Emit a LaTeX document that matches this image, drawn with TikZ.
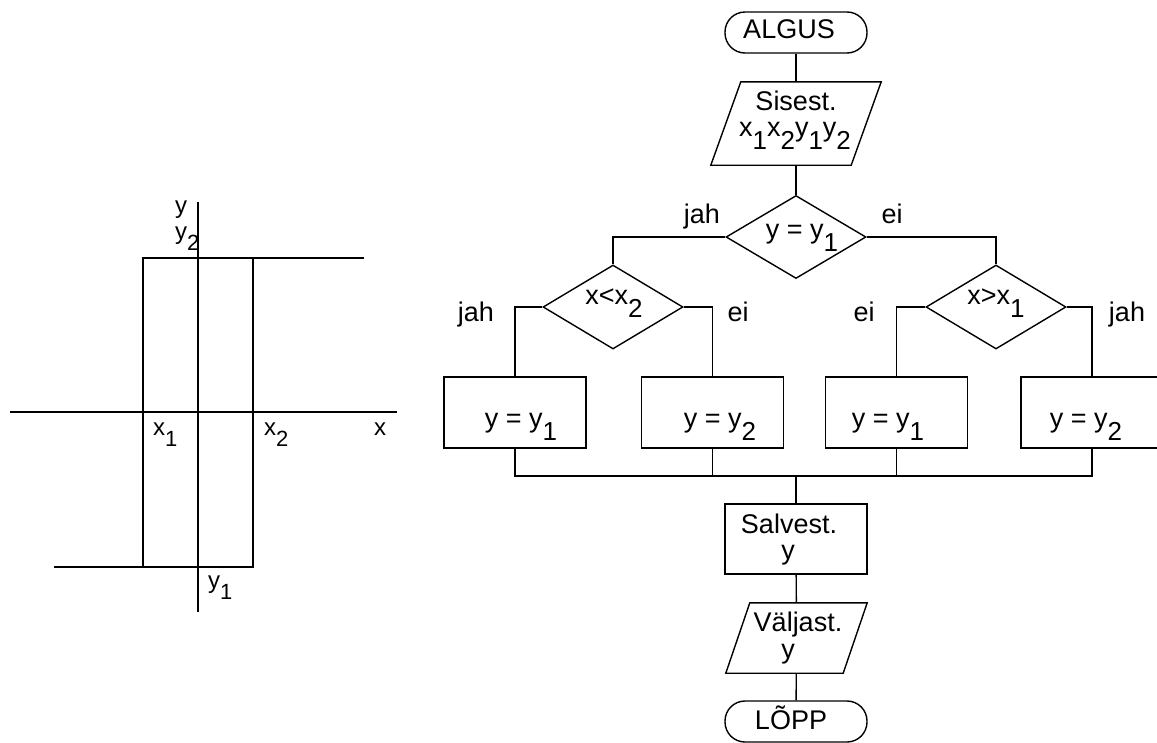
\documentclass[tikz,border=0pt]{standalone}
\usepackage{fontspec}
\usetikzlibrary{shapes.geometric}
\setmainfont{Liberation Sans}
\newcommand{\lowsub}[1]{\raisebox{-13pt}{\fontsize{26}{26}\selectfont #1}}
\newcommand{\axsub}[1]{\raisebox{-11pt}{\fontsize{22}{22}\selectfont #1}}
\tikzset{
  ln/.style={line width=1.4pt, line join=miter},
  term/.style={ln, draw, rectangle, rounded corners=20pt, minimum width=142pt, minimum height=41pt, inner sep=0pt},
  proc/.style={ln, draw, rectangle, minimum width=142pt, minimum height=71pt, inner sep=0pt},
  iobox/.style={rectangle, inner sep=0pt},
  dec/.style={ln, draw, diamond, minimum width=140pt, minimum height=83pt, inner sep=0pt},
  txt/.style={inner sep=0pt, anchor=base, font=\fontsize{27}{31}\selectfont},
  axt/.style={inner sep=0pt, anchor=base west, font=\fontsize{24}{28}\selectfont},
}
\begin{document}
\begin{tikzpicture}[x=1pt, y=-1pt]
\useasboundingbox (0,0) rectangle (1157,742);
\clip (0,0) rectangle (1157,742);
\fill[white] (0,0) rectangle (1157,742);

% ---- left graph ----
\draw[ln] (198,202) -- (198,612);
\draw[ln] (10,412) -- (397,412);
\draw[ln] (54,567) -- (253,567) -- (253,258);
\draw[ln] (364,258) -- (143,258) -- (143,567);
\node[axt, anchor=base] (ly) at (181,213) {y};
\node[axt] (ly2) at (175,239) {y\axsub{2}};
\node[axt] (lx1) at (153,435) {x\axsub{1}};
\node[axt] (lx2) at (264,435) {x\axsub{2}};
\node[axt] (lx) at (374,435) {x};
\node[axt] (ly1) at (208,588) {y\axsub{1}};

% ---- flowchart shapes ----
\node[term] (start) at (796,32.5) {};
\node[iobox, minimum width=140pt, minimum height=83pt] (inp) at (796,123.5) {};
\draw[ln] ([xshift=-15pt]inp.south west) -- ([xshift=-15pt]inp.south east)
  -- ([xshift=15pt]inp.north east) -- ([xshift=15pt]inp.north west) -- cycle;
\node[dec] (d1) at (796,237) {};
\node[dec, minimum height=84pt] (d2) at (613,307) {};
\node[dec, minimum height=84pt] (d3) at (996,307) {};
\node[proc] (b1) at (515,412.5) {};
\node[proc] (b2) at (712.5,412.5) {};
\node[proc] (b3) at (896.5,412.5) {};
\node[proc] (b4) at (1092,412.5) {};
\node[proc, minimum height=70pt] (salv) at (796,539) {};
\node[iobox, minimum width=117pt, minimum height=70pt] (outp) at (796.5,638) {};
\draw[ln] ([xshift=-12pt]outp.south west) -- ([xshift=-12pt]outp.south east)
  -- ([xshift=12pt]outp.north east) -- ([xshift=12pt]outp.north west) -- cycle;
\node[term] (stop) at (796,721.5) {};

% ---- texts ----
\node[txt] (tstart) at (789,38) {ALGUS};
\node[txt] (tin1) at (796,110) {Sisest.};
\node[txt] (tin2) at (795,136) {x\lowsub{1}x\lowsub{2}y\lowsub{1}y\lowsub{2}};
\node[txt] (td1) at (802,238) {y = y\lowsub{1}};
\node[txt] (td2) at (614,304) {x<x\lowsub{2}};
\node[txt] (td3) at (996,304) {x>x\lowsub{1}};
\node[txt] (tb1) at (521,427) {y = y\lowsub{1}};
\node[txt] (tb2) at (720,427) {y = y\lowsub{2}};
\node[txt] (tb3) at (888,427) {y = y\lowsub{1}};
\node[txt] (tb4) at (1086,427) {y = y\lowsub{2}};
\node[txt] (tsalv1) at (789,533) {Salvest.};
\node[txt] (tsalv2) at (788,559) {y};
\node[txt] (tout1) at (798,631) {Väljast.};
\node[txt] (tout2) at (788,658) {y};
\node[txt] (tstop) at (791,729) {LÕPP};
\node[txt] (l1) at (702,223) {jah};
\node[txt] (l2) at (892,223) {ei};
\node[txt] (l3) at (476,321) {jah};
\node[txt] (l4) at (738,321) {ei};
\node[txt] (l5) at (864,321) {ei};
\node[txt] (l6) at (1127,321) {jah};

% ---- connectors ----
\draw[ln] (start) -- (inp);
\draw[ln] (inp) -- (d1);
\draw[ln] (d1.west) -| (d2.north);
\draw[ln] (d1.east) -| (d3.north);
\draw[ln] (d2.west) -| (b1.north);
\draw[ln] (d2.east) -| (b2.north);
\draw[ln] (d3.west) -| (b3.north);
\draw[ln] (d3.east) -| (b4.north);
\coordinate (j) at (796,476);
\draw[ln] (b1.south) |- (j);
\draw[ln] (b4.south) |- (j);
\draw[ln] (b2.south) -- (b2.south |- j);
\draw[ln] (b3.south) -- (b3.south |- j);
\draw[ln] (j) -- (salv);
\draw[ln] (salv) -- (outp);
\draw[ln] (outp) -- (stop);
\end{tikzpicture}
\end{document}
